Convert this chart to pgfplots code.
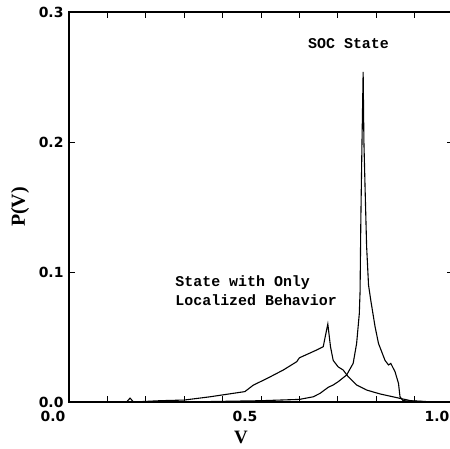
\documentclass[border=0pt]{standalone}
\usepackage{fontspec}
\usepackage{pgfplots}
\pgfplotsset{compat=1.18}
\newfontfamily\tickfont{DejaVu Sans}
\newfontfamily\annfont{Liberation Mono}
\newfontfamily\labfont{Liberation Serif}
\begin{document}
\begin{tikzpicture}
\begin{axis}[
  scale only axis, width=384bp, height=390bp,
  xmin=0, xmax=1, ymin=0, ymax=0.3,
  xtick={0,0.5,1}, xticklabels={0.0,0.5,1.0},
  minor xtick={0.1,0.2,0.3,0.4,0.6,0.7,0.8,0.9},
  ytick={0,0.1,0.2,0.3}, yticklabels={0.0,0.1,0.2,0.3},
  major tick length=6bp, minor tick length=6bp,
  tick style={line width=1pt, black},
  axis line style={line width=1.6pt},
  xticklabel style={xshift=-16bp, yshift=-6bp},
  yticklabel style={xshift=-2bp},
  ticklabel style={font=\tickfont\bfseries\fontsize{14}{14}\selectfont},
  every axis y label/.style={at={(axis description cs:-0.1276,0.5)}, rotate=90, anchor=center, font=\labfont\bfseries\fontsize{20}{20}\selectfont},
  every axis x label/.style={at={(axis description cs:0.448,-0.092)}, anchor=center, font=\labfont\bfseries\fontsize{19}{19}\selectfont},
  ylabel={P(V)}, xlabel={V},
  clip=false,
]
% SOC state
\addplot[black, line width=1.1pt] coordinates {
(0.30,0) (0.40,0.0005) (0.50,0.001) (0.60,0.002) (0.636,0.004) (0.654,0.0067)
(0.675,0.0113) (0.688,0.0131) (0.701,0.0156) (0.723,0.0208) (0.740,0.0297)
(0.749,0.045) (0.756,0.068) (0.758,0.085) (0.760,0.14) (0.763,0.2) (0.766,0.254)
(0.768,0.2) (0.771,0.165) (0.775,0.12) (0.780,0.09) (0.786,0.078) (0.797,0.058)
(0.806,0.045) (0.823,0.032) (0.832,0.0285) (0.838,0.0297) (0.849,0.0233)
(0.858,0.0144) (0.862,0.004) (0.87,0.001) (0.95,0)
};
% Localized
\addplot[black, line width=1.1pt] coordinates {
(0.0,0) (0.15,0) (0.159,0.003) (0.168,0) (0.237,0.001) (0.30,0.0015)
(0.367,0.004) (0.458,0.008) (0.48,0.013) (0.515,0.018) (0.558,0.0246)
(0.593,0.031) (0.60,0.034) (0.645,0.040) (0.662,0.0425) (0.674,0.060)
(0.681,0.0425) (0.688,0.032) (0.701,0.027) (0.714,0.0246) (0.727,0.0195)
(0.749,0.0131) (0.775,0.0092) (0.81,0.0062) (0.862,0.0028) (0.89,0.001) (0.95,0) (1.0,0)
};
\node[font=\annfont\bfseries\fontsize{15}{18}\selectfont] at (axis cs:0.728,0.2754) {SOC State};
\node[font=\annfont\bfseries\fontsize{15}{19}\selectfont, align=left, anchor=west] at (axis cs:0.268,0.0858) {State with Only\\Localized Behavior};
\end{axis}
\pgfresetboundingbox
\path[use as bounding box] ([shift={(-69bp,-47bp)}]current axis.south west) rectangle ([shift={(381bp,402bp)}]current axis.south west);
\end{tikzpicture}
\end{document}
